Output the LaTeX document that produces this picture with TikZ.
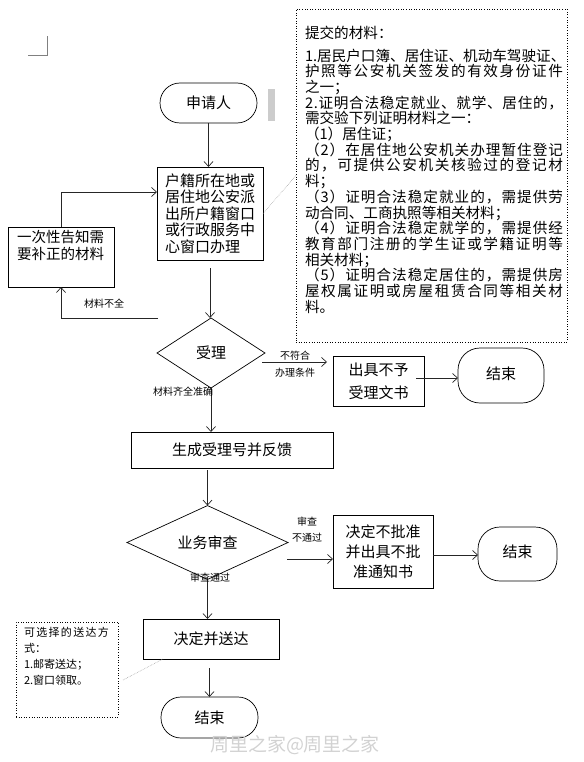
\documentclass[tikz,border=0pt]{standalone}
\usepackage{fontspec}
\setmainfont{Noto Sans CJK SC}
\usetikzlibrary{shapes.geometric,arrows.meta,calc}
\newcommand\jline[2][258pt]{\leavevmode\hbox to #1{\jloop#2\relax}}
\def\jloop#1{\ifx\relax#1\unskip\else#1\hfil\expandafter\jloop\fi}
\begin{document}
\begin{tikzpicture}[x=1pt,y=-1pt,
  every node/.style={inner sep=0pt, outer sep=0pt},
  box/.style={draw, line width=0.7pt, rectangle, align=center},
  term/.style={draw, line width=0.7pt, rectangle, align=center},
  dec/.style={draw, line width=0.7pt, diamond},
  dotbox/.style={draw, line width=0.6pt, dotted},
  arr/.style={draw=black!85, line width=0.7pt, -{Straight Barb[length=5pt,width=9pt]}},
  note/.style={draw=gray!70, line width=0.6pt, densely dotted},
  big/.style={font=\fontsize{15}{16.5}\selectfont},
  lab/.style={font=\fontsize{10}{11}\selectfont},
]
\useasboundingbox (0,0) rectangle (583,762);
% corner mark
\draw[gray, line width=0.6pt] (28,55) -- (47,55) -- (47,36);
% nodes
\node[term, big, minimum width=97pt, minimum height=40pt, rounded corners=20pt] (app) at (208.5,103) {申请人};
\node[fill=gray!40, minimum width=7pt, minimum height=32pt] (bar) at (271.5,105) {};
\node[box, big, minimum width=106pt, minimum height=93pt, align=left] (reg) at (210,213.5) {户籍所在地或\\居住地公安派\\出所户籍窗口\\或行政服务中\\心窗口办理};
\node[box, minimum width=106pt, minimum height=60pt] (notice) at (61,257) {\parbox[c][54pt][t]{88pt}{\fontsize{14.5}{17}\selectfont 一次性告知需\\要补正的材料}};
\node[dec, big, minimum width=108pt, minimum height=70pt] (acc) at (211,353) {受理};
\node[box, minimum width=91pt, minimum height=50pt, font=\fontsize{15}{23}\selectfont] (rej) at (378.5,381) {出具不予\\受理文书};
\node[term, big, minimum width=86pt, minimum height=55pt, rounded corners=22pt] (end1) at (501,375.5) {\raisebox{5pt}{结束}};
\node[box, big, minimum width=202pt, minimum height=36pt] (gen) at (232,450) {生成受理号并反馈};
\node[dec, big, minimum width=161pt, minimum height=55pt] (rev) at (207.5,542.5) {业务审查};
\node[box, minimum width=100pt, minimum height=73pt, font=\fontsize{15}{20}\selectfont] (deny) at (383,551.5) {\raisebox{3pt}{\parbox{90pt}{\centering 决定不批准\\并出具不批\\准通知书}}};
\node[term, big, minimum width=79pt, minimum height=54pt, rounded corners=22pt] (end2) at (517.5,554) {\raisebox{5pt}{结束}};
\node[box, big, minimum width=136pt, minimum height=40pt] (dec2) at (211,639) {决定并送达};
\node[term, big, minimum width=97pt, minimum height=41pt, rounded corners=20pt] (end3) at (209.5,717.5) {结束};
\node[dotbox, minimum width=102pt, minimum height=95pt] (deliv) at (67,669.5) {\parbox[c][85pt][t]{86pt}{\fontsize{11}{16}\selectfont \jline[85pt]{可选择的送达方}\\式：\\1.邮寄送达；\\2.窗口领取。}};
\node[dotbox, minimum width=271pt, minimum height=333pt] (notes) at (431.5,175.5) {};
\node[anchor=north west, align=left, font=\fontsize{14.6}{15.7}\selectfont] (notestxt) at (305,26) {提交的材料：\\[7pt]
\jline{1.居民户口簿、居住证、机动车驾驶证、}\\
\jline{护照等公安机关签发的有效身份证件}\\
之一；\\
\jline{2.证明合法稳定就业、就学、居住的，}\\
需交验下列证明材料之一：\\
（1）居住证；\\
\jline{（2）在居住地公安机关办理暂住登记}\\
\jline{的，可提供公安机关核验过的登记材}\\
料；\\
\jline{（3）证明合法稳定就业的，需提供劳}\\
动合同、工商执照等相关材料；\\
\jline{（4）证明合法稳定就学的，需提供经}\\
\jline{教育部门注册的学生证或学籍证明等}\\
相关材料；\\
\jline{（5）证明合法稳定居住的，需提供房}\\
\jline{屋权属证明或房屋租赁合同等相关材}\\
料。};
% connectors
\draw[arr] (app.south) -- (app.south |- reg.north);
\draw[arr] (notice.north) |- ($(reg.west)+(0,-21.5)$);
\coordinate (r1) at (158,318);
\draw[arr] (r1) -| (notice.south);
\draw[arr, shorten <=8pt] (reg.south) -- (reg.south |- acc.north);
\coordinate (a1) at (262,362);
\draw[arr, shorten >=6pt] (a1) -- (a1 -| rej.west);
\coordinate (b1) at ($(rej.east)+(-8,-3)$);
\draw[arr] (b1) -- (b1 -| end1.west);
\draw[arr] (acc.south) -- (acc.south |- gen.north);
\draw[arr, shorten <=2pt] (rev.north |- gen.south) -- (rev.north);
\coordinate (c1) at (287,559);
\draw[arr] (c1) -- (c1 -| deny.west);
\coordinate (d1) at ($(deny.east)+(0,3.5)$);
\draw[arr] (d1) -- (d1 -| end2.west);
\draw[arr] (rev.south) -- (rev.south |- dec2.north);
\draw[arr, shorten <=9pt] (end3.north |- dec2.south) -- (end3.north);
\draw[note] (reg.east) -- (notes.west);
\coordinate (e1) at ($(deliv.east)+(5,10.5)$);
\coordinate (e2) at ($(dec2.south west)+(20,0)$);
\draw[note] (e1) -- (e2);
% labels
\node[lab] (l1) at (104,304) {材料不全};
\node[lab] (l2) at (295,356) {不符合};
\node[lab] (l3) at (295,373) {办理条件};
\node[lab] (l4) at (183,392) {材料齐全准确};
\node[lab] (l5) at (307,522) {审查};
\node[lab] (l6) at (307,538) {不通过};
\node[lab] (l7) at (210,578) {审查通过};
\node[font=\fontsize{19}{20}\selectfont, text=gray!35] (wm) at (295,745) {周里之家@周里之家};
\end{tikzpicture}
\end{document}
